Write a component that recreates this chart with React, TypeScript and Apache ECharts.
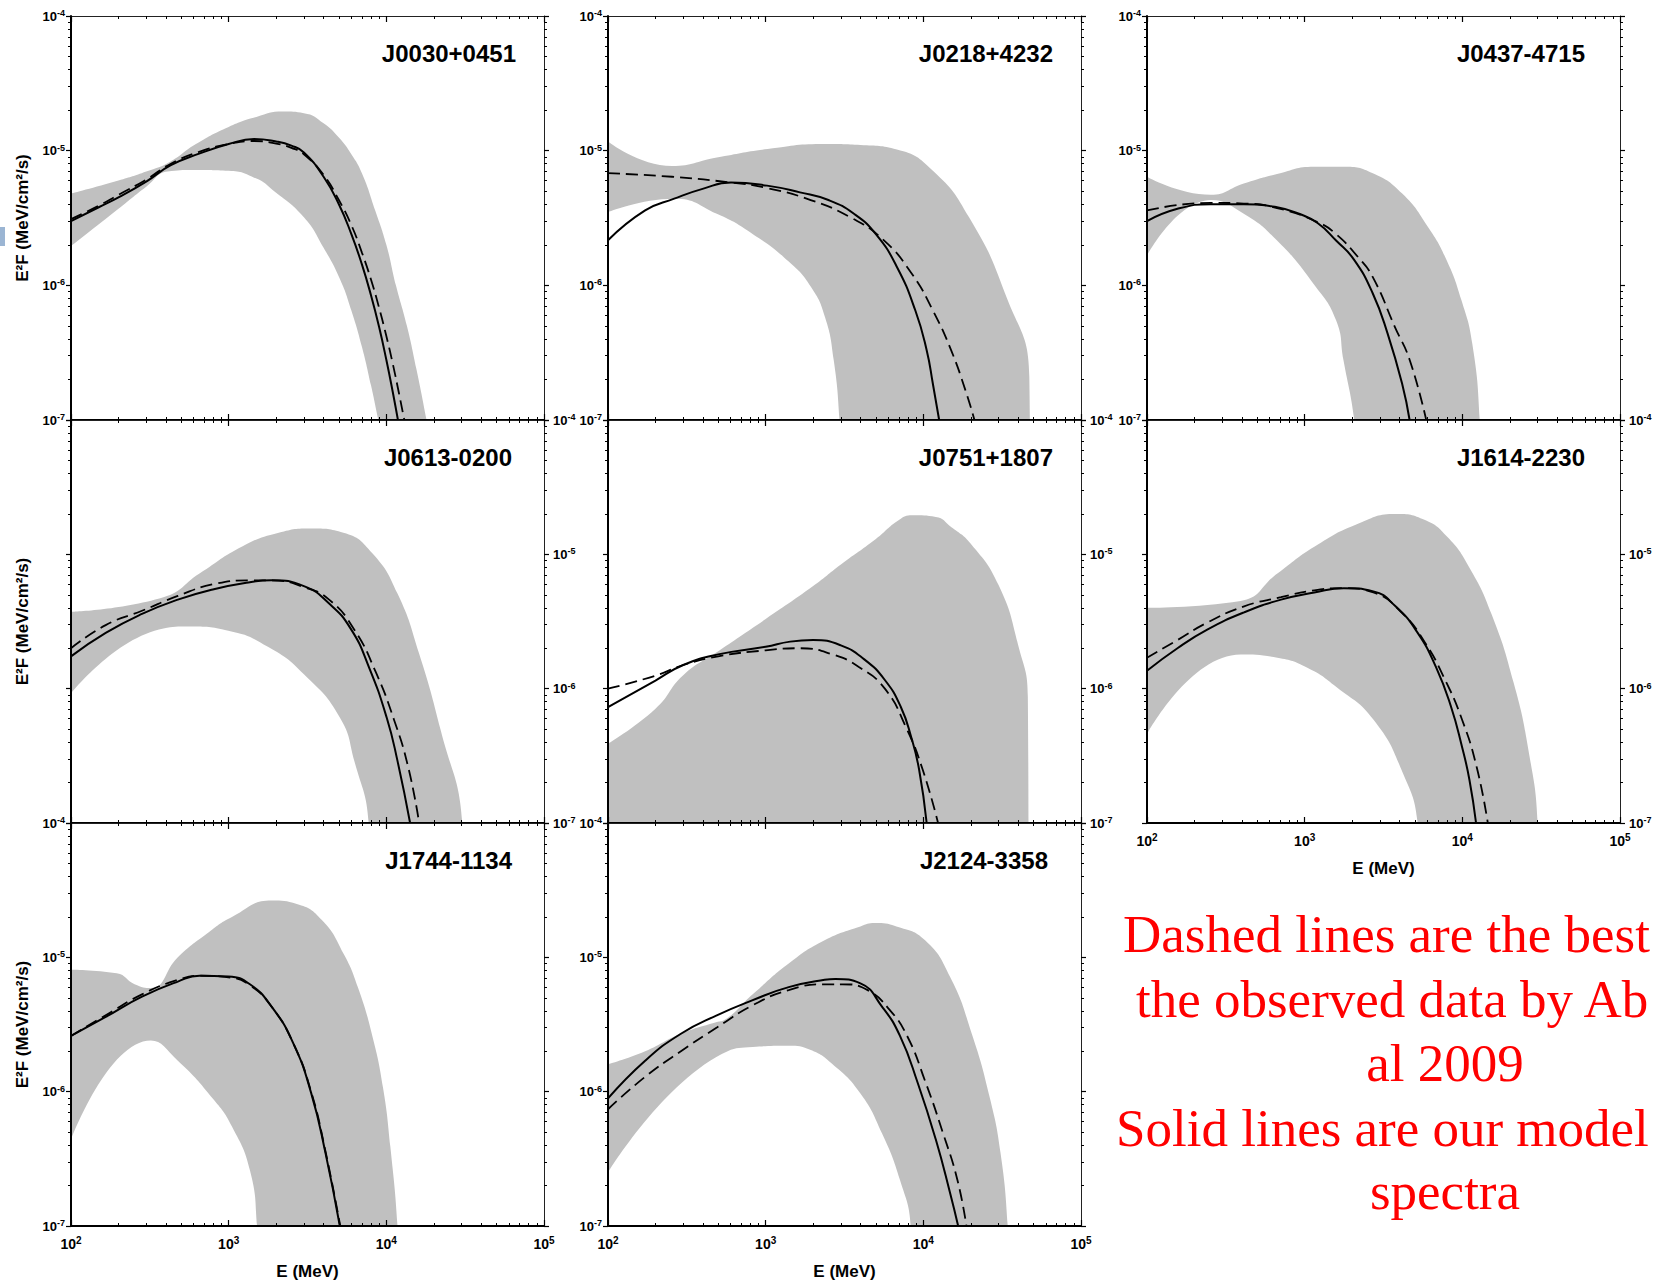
import React, { useEffect, useRef } from 'react';
import * as echarts from 'echarts';

const FONT = '"Liberation Sans", Arial, Helvetica, sans-serif';
const SERIF = '"Liberation Serif", "Times New Roman", serif';

// ---- tick values ----
const X_MAJOR = [100, 1000, 10000, 100000];
const X_MINOR = [200, 300, 400, 500, 600, 700, 800, 900, 2000, 3000, 4000, 5000, 6000, 7000, 8000, 9000, 20000, 30000, 40000, 50000, 60000, 70000, 80000, 90000];
const Y_MAJOR = [1e-7, 1e-6, 1e-5, 1e-4];
const Y_MINOR = [2e-7, 3e-7, 4e-7, 5e-7, 6e-7, 7e-7, 8e-7, 9e-7, 2e-6, 3e-6, 4e-6, 5e-6, 6e-6, 7e-6, 8e-6, 9e-6, 2e-5, 3e-5, 4e-5, 5e-5, 6e-5, 7e-5, 8e-5, 9e-5];

// ---- data: [E (MeV), E^2F (MeV/cm^2/s)] ----
const J0030_solid = [[100, 3.0e-6], [150, 3.8e-6], [200, 4.5e-6], [300, 5.9e-6], [430, 7.8e-6], [650, 9.5e-6], [1000, 1.12e-5], [1450, 1.22e-5], [2000, 1.17e-5], [2500, 1.09e-5], [3000, 9.7e-6], [4000, 6.4e-6], [5000, 4.0e-6], [6000, 2.4e-6], [7000, 1.43e-6], [8000, 8.4e-7], [9000, 4.9e-7], [10000, 2.8e-7], [11000, 1.6e-7], [12000, 9.2e-8]];
const J0030_dashed = [[100, 3.1e-6], [150, 3.9e-6], [200, 4.7e-6], [300, 6.1e-6], [430, 8.0e-6], [650, 9.8e-6], [1000, 1.12e-5], [1450, 1.18e-5], [2000, 1.13e-5], [2500, 1.05e-5], [3000, 9.4e-6], [4000, 6.6e-6], [5000, 4.3e-6], [6000, 2.8e-6], [7000, 1.75e-6], [8000, 1.1e-6], [9000, 6.8e-7], [10000, 4.2e-7], [11000, 2.6e-7], [12000, 1.6e-7], [13000, 1.0e-7]];
const J0030_upper = [[100, 4.8e-6], [200, 6.0e-6], [300, 7.0e-6], [420, 8.2e-6], [620, 1.12e-5], [1000, 1.5e-5], [1500, 1.78e-5], [2200, 1.95e-5], [3000, 1.9e-5], [4000, 1.6e-5], [5000, 1.25e-5], [6000, 9.4e-6], [7000, 6.8e-6], [8500, 3.6e-6], [10000, 2.0e-6], [11500, 1.0e-6], [13500, 5.0e-7], [15500, 2.4e-7], [18000, 1.0e-7], [19000, 7e-8]];
const J0030_lower = [[100, 1.95e-6], [200, 3.7e-6], [300, 5.4e-6], [410, 7.0e-6], [600, 7.2e-6], [1000, 7.1e-6], [1500, 6.2e-6], [1900, 5.1e-6], [3000, 3.2e-6], [4000, 1.9e-6], [5100, 1.1e-6], [6000, 6.5e-7], [7000, 3.5e-7], [8000, 1.8e-7], [8900, 1.0e-7], [9500, 7e-8]];

const J0218_solid = [[100, 2.16e-6], [172, 3.6e-6], [263, 4.4e-6], [398, 5.2e-6], [603, 5.8e-6], [1020, 5.5e-6], [1650, 4.9e-6], [2500, 4.3e-6], [3630, 3.4e-6], [5000, 2.4e-6], [6800, 1.37e-6], [8900, 6.5e-7], [10500, 3.3e-7], [11500, 1.85e-7], [12600, 1.0e-7]];
const J0218_dashed = [[100, 6.8e-6], [255, 6.4e-6], [600, 5.8e-6], [1000, 5.3e-6], [1930, 4.3e-6], [3440, 3.2e-6], [5520, 2.2e-6], [8410, 1.23e-6], [11500, 6.5e-7], [15000, 3.3e-7], [18500, 1.66e-7], [21100, 1.0e-7]];
const J0218_upper = [[100, 1.17e-5], [255, 7.7e-6], [490, 8.9e-6], [1030, 1.03e-5], [2400, 1.12e-5], [4000, 1.1e-5], [6800, 1.02e-5], [11500, 7.1e-6], [19500, 3.2e-6], [33000, 8.7e-7], [47000, 2.1e-7], [47500, 5e-8]];
const J0218_lower = [[100, 3.5e-6], [263, 4.4e-6], [490, 3.4e-6], [830, 2.4e-6], [1400, 1.5e-6], [1930, 9.8e-7], [2380, 5.8e-7], [2700, 2.8e-7], [2940, 1.0e-7], [3000, 5e-8]];

const J0437_solid = [[100, 3.0e-6], [156, 3.7e-6], [254, 4.0e-6], [411, 4.0e-6], [668, 3.8e-6], [922, 3.4e-6], [1207, 2.9e-6], [1582, 2.15e-6], [2065, 1.54e-6], [2705, 8.7e-7], [3355, 4.4e-7], [4155, 1.85e-7], [4630, 1.0e-7]];
const J0437_dashed = [[100, 3.6e-6], [254, 4.1e-6], [411, 4.05e-6], [668, 3.75e-6], [1207, 2.95e-6], [1582, 2.4e-6], [2180, 1.62e-6], [2705, 1.15e-6], [3737, 4.9e-7], [4630, 2.8e-7], [5900, 1.0e-7]];
const J0437_upper = [[100, 6.4e-6], [254, 4.7e-6], [411, 5.7e-6], [668, 6.7e-6], [1143, 7.6e-6], [1760, 7.6e-6], [2705, 6.8e-6], [4155, 4.8e-6], [6070, 2.7e-6], [7940, 1.54e-6], [9850, 7.8e-7], [11560, 3.7e-7], [12890, 1.0e-7], [13100, 5e-8]];
const J0437_lower = [[100, 1.66e-6], [254, 4.3e-6], [411, 3.4e-6], [668, 2.15e-6], [1143, 1.02e-6], [1582, 5.5e-7], [1760, 2.8e-7], [2065, 1.0e-7], [2150, 5e-8]];

const J0613_solid = [[100, 1.74e-6], [166, 2.6e-6], [282, 3.6e-6], [476, 4.6e-6], [805, 5.5e-6], [1364, 6.2e-6], [1870, 6.4e-6], [3000, 5.8e-6], [4336, 4.3e-6], [5940, 2.8e-6], [7730, 1.46e-6], [10050, 6.1e-7], [11770, 2.9e-7], [14150, 1.0e-7]];
const J0613_dashed = [[100, 2.0e-6], [166, 2.97e-6], [282, 3.8e-6], [476, 4.9e-6], [805, 6.0e-6], [1364, 6.4e-6], [1870, 6.4e-6], [3000, 5.7e-6], [4336, 4.6e-6], [6265, 2.75e-6], [8590, 1.32e-6], [11170, 5.9e-7], [13770, 2.6e-7], [16150, 1.0e-7]];
const J0613_upper = [[100, 3.74e-6], [386, 4.8e-6], [653, 7.2e-6], [1227, 1.15e-5], [2077, 1.45e-5], [3334, 1.56e-5], [5345, 1.45e-5], [8150, 1.02e-5], [11770, 5.1e-6], [16150, 1.82e-6], [22130, 4.9e-7], [30330, 1.0e-7], [31000, 5e-8]];
const J0613_lower = [[100, 9.2e-7], [386, 2.8e-6], [558, 2.9e-6], [995, 2.7e-6], [1774, 2.05e-6], [3000, 1.28e-6], [5070, 6.1e-7], [6265, 2.9e-7], [7730, 1.0e-7], [7900, 5e-8]];

const J0751_solid = [[100, 7.3e-7], [200, 1.15e-6], [300, 1.5e-6], [500, 1.8e-6], [1000, 2.05e-6], [1430, 2.24e-6], [2000, 2.3e-6], [3000, 2.1e-6], [4200, 1.66e-6], [5700, 1.16e-6], [7200, 7.3e-7], [8400, 4.3e-7], [9400, 2.5e-7], [10500, 1.0e-7]];
const J0751_dashed = [[100, 1.0e-6], [200, 1.25e-6], [300, 1.5e-6], [500, 1.74e-6], [1000, 1.93e-6], [1650, 2.0e-6], [2650, 1.8e-6], [3900, 1.45e-6], [5700, 1.0e-6], [7800, 5.1e-7], [9900, 2.5e-7], [12400, 1.0e-7]];
const J0751_upper = [[100, 3.9e-7], [200, 7.1e-7], [300, 1.26e-6], [500, 1.9e-6], [1000, 3.3e-6], [2000, 5.8e-6], [3000, 8.4e-6], [5000, 1.3e-5], [7000, 1.8e-5], [8500, 1.95e-5], [12000, 1.9e-5], [15000, 1.6e-5], [20000, 1.2e-5], [30000, 5.9e-6], [40000, 2.1e-6], [46000, 8.7e-7], [46500, 5e-8]];
const J0751_lower: number[][] = [];

const J1614_solid = [[100, 1.36e-6], [156, 2.0e-6], [241, 2.75e-6], [413, 3.7e-6], [708, 4.6e-6], [1151, 5.2e-6], [1771, 5.6e-6], [2727, 5.3e-6], [3769, 4.1e-6], [5210, 2.6e-6], [6820, 1.44e-6], [8460, 7.4e-7], [9950, 3.7e-7], [11090, 2.1e-7], [12220, 1.0e-7]];
const J1614_dashed = [[100, 1.7e-6], [156, 2.3e-6], [241, 3.1e-6], [413, 4.1e-6], [708, 4.8e-6], [1151, 5.4e-6], [1771, 5.6e-6], [2727, 5.2e-6], [4200, 3.6e-6], [5800, 2.2e-6], [7600, 1.23e-6], [9950, 5.9e-7], [12340, 2.6e-7], [14510, 1.0e-7]];
const J1614_upper = [[100, 4.0e-6], [392, 4.5e-6], [671, 7.2e-6], [1151, 1.14e-5], [2197, 1.7e-5], [3769, 2.0e-5], [5800, 1.8e-5], [8020, 1.35e-5], [11000, 8.1e-6], [15310, 3.6e-6], [21180, 1.1e-6], [26250, 3.5e-7], [30050, 1.0e-7], [30500, 5e-8]];
const J1614_lower = [[100, 4.6e-7], [392, 1.8e-6], [671, 1.7e-6], [1033, 1.44e-6], [1589, 1.03e-6], [2727, 5.9e-7], [4200, 2.35e-7], [5210, 1.0e-7], [5400, 5e-8]];

const J1744_solid = [[100, 2.6e-6], [166, 3.6e-6], [282, 5.1e-6], [476, 6.6e-6], [653, 7.3e-6], [995, 7.2e-6], [1364, 6.3e-6], [1870, 4.3e-6], [2566, 2.3e-6], [3334, 9.8e-7], [4111, 3.5e-7], [5070, 1.0e-7]];
const J1744_dashed = [[100, 2.6e-6], [166, 3.7e-6], [282, 5.3e-6], [476, 6.8e-6], [653, 7.3e-6], [995, 7.1e-6], [1364, 6.2e-6], [1870, 4.3e-6], [2566, 2.3e-6], [3334, 1.0e-6], [4111, 3.6e-7], [5100, 1.0e-7]];
const J1744_upper = [[100, 8.1e-6], [195, 7.6e-6], [253, 6.3e-6], [321, 5.9e-6], [476, 1.0e-5], [726, 1.5e-5], [1049, 2.0e-5], [1870, 2.65e-5], [2704, 2.5e-5], [3901, 1.9e-5], [5345, 1.07e-5], [6600, 6.0e-6], [8150, 2.6e-6], [9530, 1.07e-6], [10600, 3.9e-7], [11770, 1.0e-7], [12000, 5e-8]];
const J1744_lower = [[100, 4.4e-7], [321, 2.4e-6], [476, 1.7e-6], [805, 8.7e-7], [1049, 5.5e-7], [1364, 2.6e-7], [1514, 1.0e-7], [1550, 5e-8]];

const J2124_solid = [[100, 8.9e-7], [172, 1.7e-6], [290, 2.7e-6], [490, 3.7e-6], [828, 4.8e-6], [1400, 6.0e-6], [2364, 6.8e-6], [2767, 6.9e-6], [3990, 6.4e-6], [5465, 4.3e-6], [7110, 2.6e-6], [9240, 1.15e-6], [12000, 4.4e-7], [14820, 1.74e-7], [16630, 1.0e-7]];
const J2124_dashed = [[100, 7.4e-7], [172, 1.29e-6], [290, 2.0e-6], [490, 3.0e-6], [828, 4.4e-6], [1400, 5.7e-6], [2364, 6.3e-6], [3072, 6.3e-6], [4433, 5.7e-6], [6075, 4.1e-6], [7890, 2.6e-6], [10260, 1.2e-6], [13340, 4.9e-7], [16450, 2.2e-7], [18760, 1.0e-7]];
const J2124_upper = [[100, 1.6e-6], [172, 2.0e-6], [290, 2.7e-6], [490, 3.3e-6], [544, 3.4e-6], [828, 5.3e-6], [1400, 9.0e-6], [2364, 1.34e-5], [3990, 1.7e-5], [4920, 1.8e-5], [6750, 1.7e-5], [10260, 1.34e-5], [14820, 7.1e-6], [20290, 2.7e-6], [26350, 9.1e-7], [30880, 3.5e-7], [34300, 1.0e-7], [35000, 5e-8]];
const J2124_lower = [[100, 2.5e-7], [574, 2.0e-6], [828, 2.15e-6], [1400, 2.2e-6], [1915, 2.05e-6], [2625, 1.62e-6], [3990, 9.7e-7], [5465, 4.9e-7], [7110, 2.2e-7], [8320, 1.0e-7], [8500, 5e-8]];

const PULSARS = ['J0030+0451', 'J0218+4232', 'J0437-4715', 'J0613-0200', 'J0751+1807', 'J1614-2230', 'J1744-1134', 'J2124-3358'];
const SOLID = [J0030_solid, J0218_solid, J0437_solid, J0613_solid, J0751_solid, J1614_solid, J1744_solid, J2124_solid];
const DASHED = [J0030_dashed, J0218_dashed, J0437_dashed, J0613_dashed, J0751_dashed, J1614_dashed, J1744_dashed, J2124_dashed];
const UPPER = [J0030_upper, J0218_upper, J0437_upper, J0613_upper, J0751_upper, J1614_upper, J1744_upper, J2124_upper];
const LOWER = [J0030_lower, J0218_lower, J0437_lower, J0613_lower, J0751_lower, J1614_lower, J1744_lower, J2124_lower];

// visible part of the note (the slide crops it at the right edge)
const NOTE_LINES = ['Dashed lines are the best', 'the observed data by Ab', 'al 2009', 'Solid lines are our model', 'spectra'];

// ---- layout (pixels) ----
const W = 1656, H = 1284;
const COL_X = [71, 608, 1147];
const ROW_Y = [16, 420, 823];
const ROW_H = [404, 403, 403];
const GW = 473;
const LAYOUT = [
  { col: 0, row: 0, yl: true, yr: false, xl: false, yt: true, tr: 28 },
  { col: 1, row: 0, yl: true, yr: false, xl: false, yt: false, tr: 28 },
  { col: 2, row: 0, yl: true, yr: false, xl: false, yt: false, tr: 35 },
  { col: 0, row: 1, yl: false, yr: true, xl: false, yt: true, tr: 32 },
  { col: 1, row: 1, yl: false, yr: true, xl: false, yt: false, tr: 28 },
  { col: 2, row: 1, yl: false, yr: true, xl: true, yt: false, tr: 35 },
  { col: 0, row: 2, yl: true, yr: false, xl: true, yt: true, tr: 32 },
  { col: 1, row: 2, yl: true, yr: false, xl: true, yt: false, tr: 33 },
];
const NOTE_POS = [
  { x: 1123, y: 934, align: 'left' },
  { x: 1136, y: 999, align: 'left' },
  { x: 1445, y: 1063, align: 'center' },
  { x: 1116, y: 1128, align: 'left' },
  { x: 1445, y: 1191, align: 'center' },
];

const powFmt = (v: number) => `{b|10}{s|${Math.round(Math.log10(v))}}`;
const yRich = {
  b: { fontSize: 13, fontWeight: 'bold', fontFamily: FONT, color: '#000', lineHeight: 15 },
  s: { fontSize: 9, fontWeight: 'bold', fontFamily: FONT, color: '#000', lineHeight: 9, verticalAlign: 'top' },
};
const xRich = {
  b: { fontSize: 14, fontWeight: 'bold', fontFamily: FONT, color: '#000', lineHeight: 17 },
  s: { fontSize: 10, fontWeight: 'bold', fontFamily: FONT, color: '#000', lineHeight: 10, verticalAlign: 'top' },
};

function buildOption() {
  const grid: any[] = [];
  const xAxis: any[] = [];
  const yAxis: any[] = [];
  const series: any[] = [];
  const title: any[] = [];

  LAYOUT.forEach((L, i) => {
    grid.push({ left: COL_X[L.col], top: ROW_Y[L.row], width: GW, height: ROW_H[L.row], containLabel: false });
    const xb = { type: 'log', logBase: 10, min: 100, max: 100000, gridIndex: i, splitLine: { show: false }, z: 10, silent: true };
    xAxis.push(
      {
        ...xb, position: 'bottom',
        axisLine: { show: true, onZero: false, lineStyle: { color: '#000', width: 2 } },
        axisTick: { show: true, inside: true, length: 6, customValues: X_MAJOR, lineStyle: { color: '#000', width: 1.2 } },
        axisLabel: { show: L.xl, customValues: X_MAJOR, margin: 9, formatter: powFmt, rich: xRich },
        name: L.xl ? 'E (MeV)' : '', nameLocation: 'middle', nameGap: 37,
        nameTextStyle: { fontSize: 17, fontWeight: 'bold', fontFamily: FONT, color: '#000' },
      },
      {
        ...xb, position: 'bottom', axisLine: { show: false, onZero: false },
        axisTick: { show: true, inside: true, length: 3, customValues: X_MINOR, lineStyle: { color: '#000', width: 1 } },
        axisLabel: { show: false },
      },
      {
        ...xb, position: 'top',
        axisLine: { show: true, onZero: false, lineStyle: { color: '#222', width: 1 } },
        axisTick: { show: true, inside: true, length: 6, customValues: X_MAJOR, lineStyle: { color: '#000', width: 1.2 } },
        axisLabel: { show: false },
      },
      {
        ...xb, position: 'top', axisLine: { show: false, onZero: false },
        axisTick: { show: true, inside: true, length: 3, customValues: X_MINOR, lineStyle: { color: '#000', width: 1 } },
        axisLabel: { show: false },
      },
    );
    const yb = { type: 'log', logBase: 10, min: 1e-7, max: 1e-4, gridIndex: i, splitLine: { show: false }, z: 10, silent: true };
    yAxis.push(
      {
        ...yb, position: 'left',
        axisLine: { show: true, onZero: false, lineStyle: { color: '#000', width: 2 } },
        axisTick: { show: true, inside: false, length: 5, customValues: Y_MAJOR, lineStyle: { color: '#000', width: 1.2 } },
        axisLabel: { show: L.yl, customValues: Y_MAJOR, margin: 6, formatter: powFmt, rich: yRich },
        name: L.yt ? 'E²F (MeV/cm²/s)' : '', nameLocation: 'middle', nameRotate: 90, nameGap: 40,
        nameTextStyle: { fontSize: 17, fontWeight: 'bold', fontFamily: FONT, color: '#000' },
      },
      {
        ...yb, position: 'left', axisLine: { show: false, onZero: false },
        axisTick: { show: true, inside: false, length: 3, customValues: Y_MINOR, lineStyle: { color: '#000', width: 1 } },
        axisLabel: { show: false },
      },
      {
        ...yb, position: 'right',
        axisLine: { show: true, onZero: false, lineStyle: { color: '#222', width: 1 } },
        axisTick: { show: true, inside: false, length: 5, customValues: Y_MAJOR, lineStyle: { color: '#000', width: 1.2 } },
        axisLabel: { show: L.yr, customValues: Y_MAJOR, margin: 9, formatter: powFmt, rich: yRich },
      },
      {
        ...yb, position: 'right', axisLine: { show: false, onZero: false },
        axisTick: { show: true, inside: false, length: 3, customValues: Y_MINOR, lineStyle: { color: '#000', width: 1 } },
        axisLabel: { show: false },
      },
    );

    const ax = { xAxisIndex: 4 * i, yAxisIndex: 4 * i, symbol: 'none', showSymbol: false, silent: true, smooth: 0.5 };
    series.push({
      ...ax, type: 'line', name: PULSARS[i] + ' band', data: UPPER[i], z: 2,
      lineStyle: { width: 0, opacity: 0 },
      areaStyle: { color: '#c0c0c0', opacity: 1, origin: 'start' },
    });
    if (LOWER[i].length) {
      series.push({
        ...ax, type: 'line', name: PULSARS[i] + ' band low', data: LOWER[i], z: 2,
        lineStyle: { width: 0, opacity: 0 },
        areaStyle: { color: '#ffffff', opacity: 1, origin: 'start' },
      });
    }
    series.push({
      ...ax, type: 'line', name: PULSARS[i] + ' fit', data: DASHED[i], z: 3,
      lineStyle: { color: '#000', width: 1.8, type: [12, 6] },
    });
    series.push({
      ...ax, type: 'line', name: PULSARS[i] + ' model', data: SOLID[i], z: 4,
      lineStyle: { color: '#000', width: 2 },
    });

    title.push({
      text: PULSARS[i],
      right: W - (COL_X[L.col] + GW) + L.tr,
      top: ROW_Y[L.row] + 25,
      padding: 0,
      textStyle: { fontSize: 24, fontWeight: 'bold', fontFamily: FONT, color: '#000' },
    });
  });

  const graphic: any[] = [
    { type: 'rect', shape: { x: 0, y: 227, width: 5, height: 19 }, style: { fill: '#9bb5d3' }, silent: true },
    ...NOTE_LINES.map((t, k) => ({
      type: 'text', x: NOTE_POS[k].x, y: NOTE_POS[k].y, silent: true,
      style: { text: t, fill: '#ff0000', fontSize: 53, fontFamily: SERIF, align: NOTE_POS[k].align, verticalAlign: 'middle' },
    })),
  ];

  return { animation: false, backgroundColor: '#ffffff', grid, xAxis, yAxis, series, title, graphic };
}

export default function App() {
  const ref = useRef<HTMLDivElement>(null);
  useEffect(() => {
    if (!ref.current) return;
    document.body.style.margin = '0';
    document.body.style.overflow = 'hidden';
    const chart = echarts.init(ref.current, undefined, { renderer: 'svg', width: W, height: H });
    chart.setOption(buildOption() as any);
    return () => chart.dispose();
  }, []);
  return <div ref={ref} style={{ position: 'fixed', left: 0, top: 0, width: W + 'px', height: H + 'px', background: '#fff' }} />;
}
